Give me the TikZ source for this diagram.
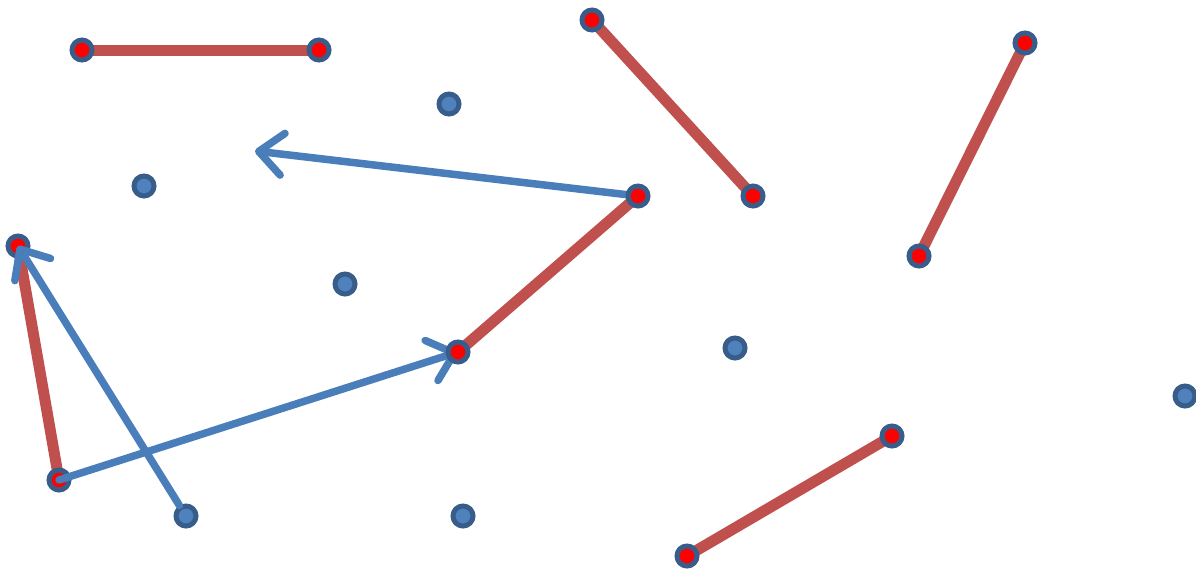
\documentclass[tikz,border=0pt]{standalone}
\usetikzlibrary{arrows.meta}
\definecolor{segred}{HTML}{C0504D}
\definecolor{ringblue}{HTML}{385D8A}
\definecolor{dotblue}{HTML}{4F81BD}
\definecolor{arrowblue}{HTML}{4A7EBB}
\pgfdeclarelayer{bg}
\pgfdeclarelayer{low}
\pgfdeclarelayer{mid}
\pgfdeclarelayer{fg}
\pgfsetlayers{bg,low,mid,main,fg}
\tikzset{
  dot/.style={circle, draw=ringblue, line width=5pt, minimum size=20pt, inner sep=0pt},
  reddot/.style={dot, fill=red},
  bluedot/.style={dot, fill=dotblue},
  seg/.style={draw=segred, line width=11pt},
  vec/.style={draw=arrowblue, line width=7.5pt, line cap=round,
    -{Straight Barb[length=24pt, width=42pt, round]}},
}
\begin{document}
\begin{tikzpicture}[x=1pt,y=-1pt]
\useasboundingbox (0,0) rectangle (1196,570);
% red-centred dots
\node[reddot] (a1) at (82,50) {};
\node[reddot] (a2) at (319,50) {};
\node[reddot] (b1) at (592,20) {};
\node[reddot] (b2) at (753,196) {};
\node[reddot] (c1) at (1025,43) {};
\node[reddot] (c2) at (919,256) {};
\node[reddot] (d1) at (638,196) {};
\node[reddot] (d2) at (458,352) {};
\node[reddot] (e1) at (18,246) {};
\node[reddot] (f1) at (687,556) {};
\node[reddot] (f2) at (892,436) {};
\begin{pgfonlayer}{low}
\node[reddot] (e2) at (59,480) {};
\end{pgfonlayer}
% blue dots
\node[bluedot] (p1) at (449,104) {};
\node[bluedot] (p2) at (144,186) {};
\node[bluedot] (p3) at (345,284) {};
\node[bluedot] (p4) at (735,348) {};
\node[bluedot] (p5) at (1185,396) {};
\node[bluedot] (p6) at (186,516) {};
\node[bluedot] (p7) at (463,516) {};
\coordinate (t1) at (255,151);
% red segments
\begin{pgfonlayer}{bg}
\draw[seg] (a1.center) -- (a2.center);
\draw[seg] (b1.center) -- (b2.center);
\draw[seg] (c1.center) -- (c2.center);
\draw[seg] (d1.center) -- (d2.center);
\draw[seg] (e1.center) -- (e2.center);
\draw[seg] (f1.center) -- (f2.center);
\end{pgfonlayer}
% blue arrows
\begin{pgfonlayer}{mid}
\draw[vec] (d1.center) -- (t1);
\draw[vec] (e2.center) -- (d2.center);
\end{pgfonlayer}
\begin{pgfonlayer}{fg}
\draw[vec] (p6) -- (e1.center);
\end{pgfonlayer}
\end{tikzpicture}
\end{document}
